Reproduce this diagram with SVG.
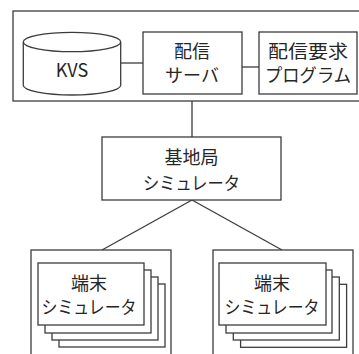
<svg xmlns="http://www.w3.org/2000/svg" width="359" height="354" viewBox="0 0 359 354">
<style>
  .box { fill: #ffffff; stroke: #3c3c3c; stroke-width: 1.3; }
  .line { fill: none; stroke: #3c3c3c; stroke-width: 1.3; }
  .t { font-family: "Noto Sans CJK JP", "Noto Sans", sans-serif; font-size: 18px; fill: #262626; text-anchor: middle; }
</style>
<rect width="359" height="354" fill="#ffffff"/>
<g id="server-group">
  <rect class="box" x="13" y="11" width="348" height="90"/>
</g>
<g id="connectors">
  <line class="line" x1="120.7" y1="63" x2="143" y2="63"/>
  <line class="line" x1="242" y1="67" x2="259" y2="67"/>
  <line class="line" x1="192" y1="101" x2="192" y2="137"/>
  <line class="line" x1="192" y1="200" x2="102" y2="250"/>
  <line class="line" x1="192" y1="200" x2="282" y2="250"/>
</g>
<g id="kvs">
  <path class="box" d="M23.3,42 L23.3,85.3 A48.7,9.7 0 0 0 120.7,85.3 L120.7,42 A48.7,9.7 0 0 0 23.3,42 Z"/>
  <path class="line" d="M23.3,42 A48.7,9.7 0 0 0 120.7,42"/>
  <text class="t" x="72" y="77">KVS</text>
</g>
<g id="delivery-server">
  <rect class="box" x="143" y="32" width="99" height="62"/>
  <text class="t" x="192" y="58">配信</text>
  <text class="t" x="192" y="82">サーバ</text>
</g>
<g id="request-program">
  <rect class="box" x="259" y="32" width="98" height="62"/>
  <text class="t" x="308" y="58" textLength="80" lengthAdjust="spacingAndGlyphs">配信要求</text>
  <text class="t" x="308" y="82" textLength="86" lengthAdjust="spacingAndGlyphs">プログラム</text>
</g>
<g id="base-station">
  <rect class="box" x="102" y="137" width="179" height="63"/>
  <text class="t" x="191.5" y="164">基地局</text>
  <text class="t" x="191.5" y="190" textLength="97" lengthAdjust="spacingAndGlyphs">シミュレータ</text>
</g>
<g id="terminal-left">
  <rect class="box" x="31" y="250" width="140" height="110"/>
  <rect class="box" x="59" y="284" width="106" height="63"/>
  <rect class="box" x="52" y="277" width="106" height="63"/>
  <rect class="box" x="45" y="270" width="106" height="63"/>
  <rect class="box" x="38" y="263" width="106" height="62"/>
  <text class="t" x="89" y="289.5">端末</text>
  <text class="t" x="89" y="313.5" textLength="95" lengthAdjust="spacingAndGlyphs">シミュレータ</text>
</g>
<g id="terminal-right">
  <rect class="box" x="213" y="250" width="140" height="110"/>
  <rect class="box" x="240.6" y="284.3" width="106" height="63"/>
  <rect class="box" x="233.3" y="277" width="106" height="63"/>
  <rect class="box" x="226" y="270" width="106" height="63"/>
  <rect class="box" x="219" y="263" width="107" height="62"/>
  <text class="t" x="272" y="289.5">端末</text>
  <text class="t" x="272" y="313.5" textLength="95" lengthAdjust="spacingAndGlyphs">シミュレータ</text>
</g>
</svg>
